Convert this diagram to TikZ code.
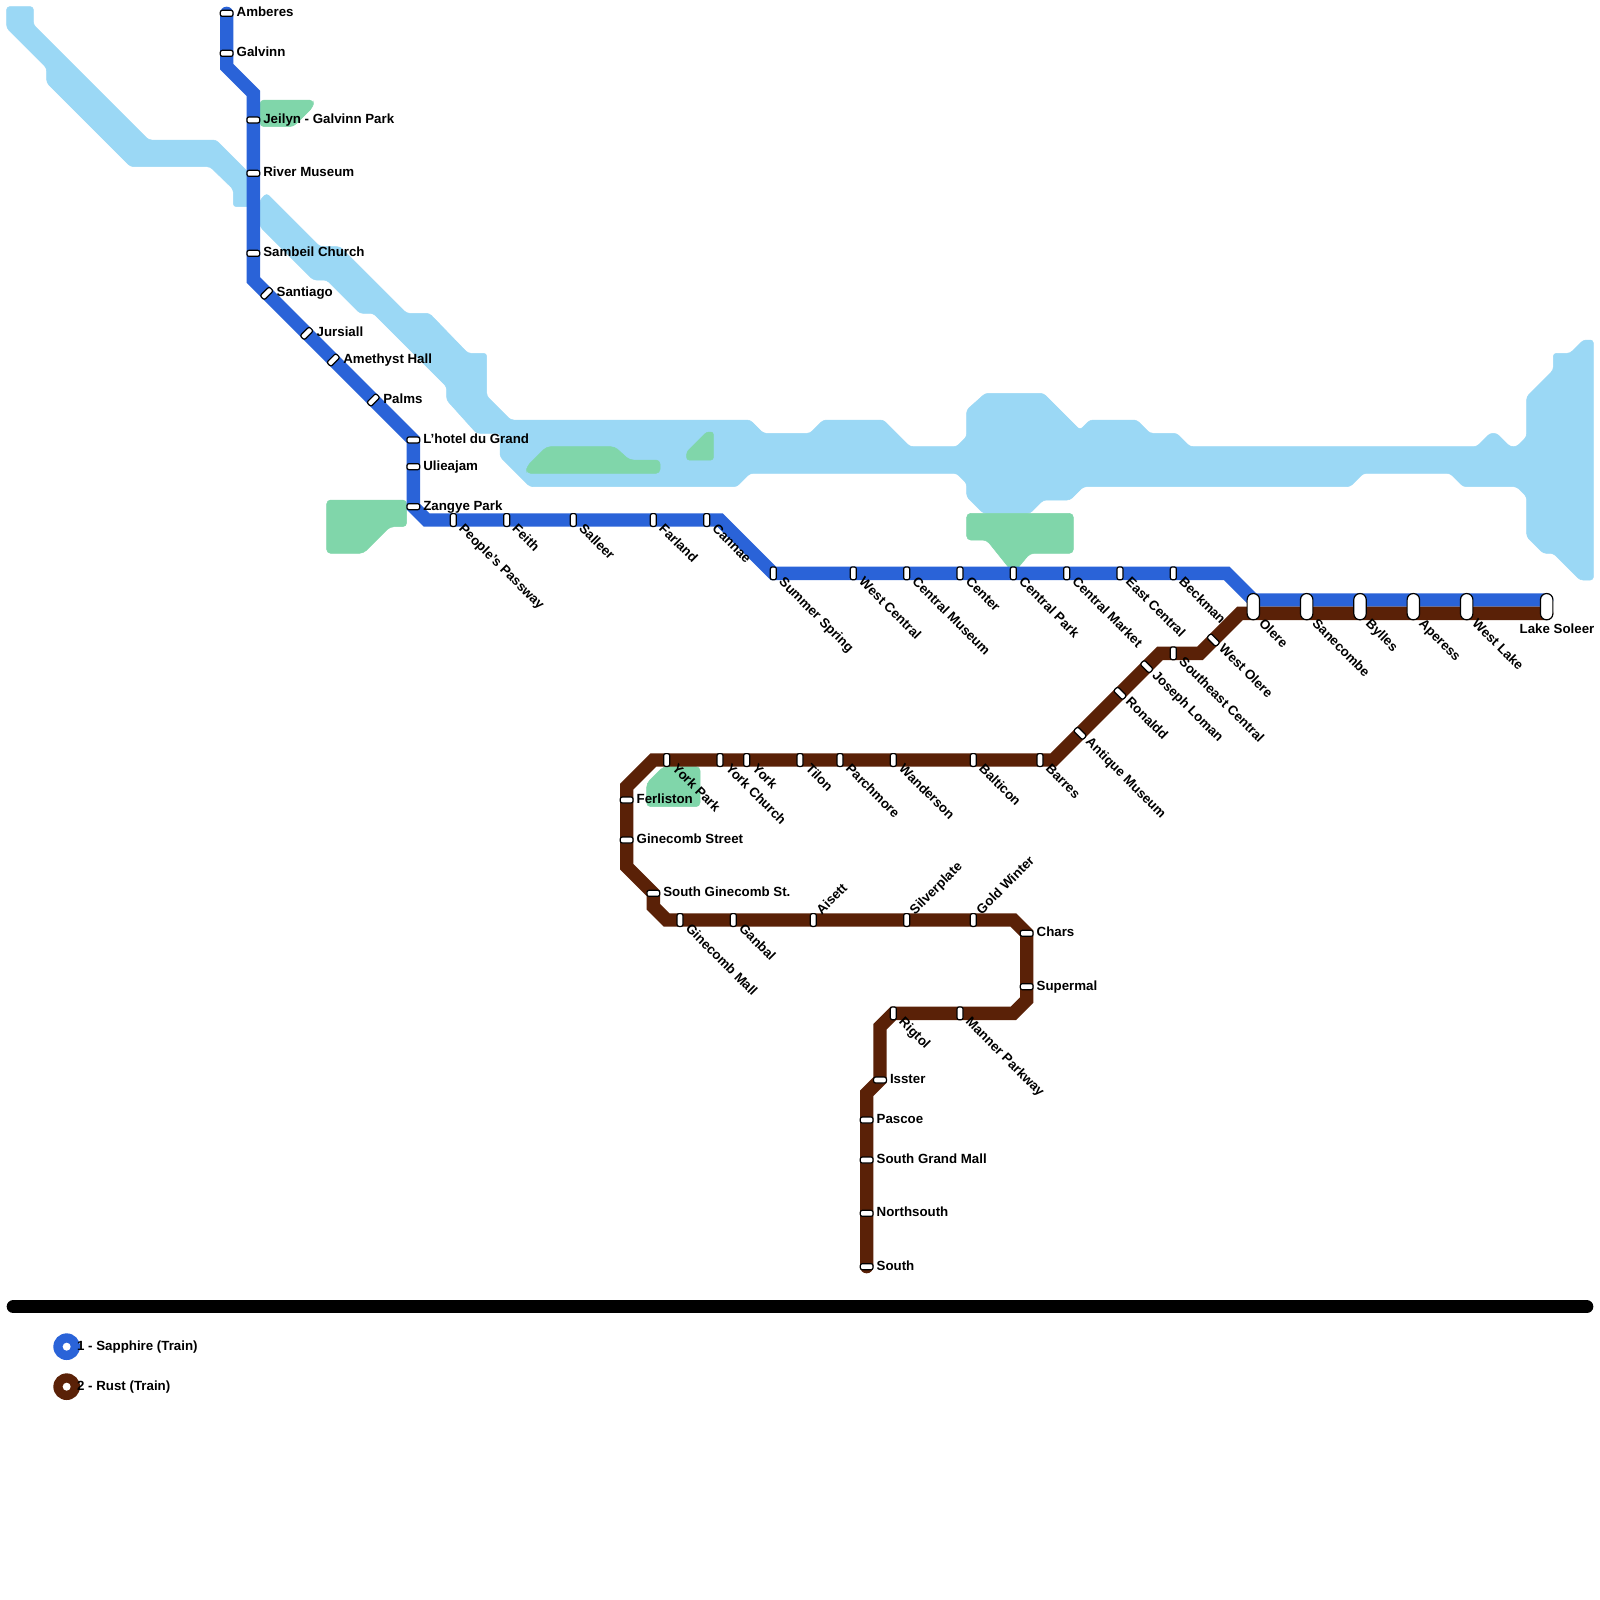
\documentclass[tikz,border=0pt]{standalone}
\usepackage{fontspec}
\setmainfont{Liberation Sans}
\pgfdeclarelayer{waterlayer}
\pgfdeclarelayer{linelayer}
\pgfsetlayers{waterlayer,linelayer,main}
\definecolor{waterc}{HTML}{9BD8F5}
\definecolor{parkc}{HTML}{80D6AA}
\definecolor{bluec}{HTML}{2A63D8}
\definecolor{rustc}{HTML}{5A2107}
\tikzset{
  water/.style={fill=waterc,draw=waterc,line width=0.5pt,rounded corners=3pt},
  park/.style={fill=parkc,draw=parkc,line width=0.5pt,rounded corners=4pt},
  metro/.style={line width=13.333pt,line join=miter,line cap=round},
  pill/.style={draw=black,fill=white,line width=1.2pt,rectangle,rounded corners=2pt,inner sep=0pt,outer sep=0pt},
  wide/.style={pill,minimum width=12.8pt,minimum height=6pt},
  tall/.style={pill,minimum width=6pt,minimum height=12.8pt},
  diagu/.style={wide,rotate=45},
  diagd/.style={wide,rotate=-45},
  big/.style={pill,minimum width=12.4pt,minimum height=26.2pt,rounded corners=6pt},
  lab/.style={font=\fontsize{13.3}{15}\selectfont\bfseries,text=black,inner sep=0pt,outer sep=0pt},
}
\newcommand{\lblR}[2]{\node[lab,anchor=base west] (#1-l) at ([shift={(10pt,-3.5pt)}]#1.center) {#2};}
\newcommand{\lblD}[2]{\node[lab,anchor=base west,rotate=-45] (#1-l) at ([shift={(5pt,-9.5pt)}]#1.center) {#2};}
\newcommand{\lblU}[2]{\node[lab,anchor=base west,rotate=45] (#1-l) at ([shift={(8.5pt,5pt)}]#1.center) {#2};}
\newcommand{\lblB}[2]{\node[lab,anchor=base west,rotate=-45] (#1-l) at ([shift={(5pt,-18pt)}]#1.center) {#2};}
\begin{document}
\begin{tikzpicture}[x=13.3333pt,y=-13.3333pt]
\useasboundingbox (0,0) rectangle (120,120);

% water
\begin{pgfonlayer}{waterlayer}
\fill[white] (0,0) rectangle (120,120);
\draw[water] (0.5,0.5) -- (2.5,0.5) -- (2.5,1.85) -- (11.15,10.5) -- (16.2,10.5) -- (19,13.3) -- (19,15.5) -- (17.5,15.5) -- (17.5,14.2) -- (15.75,12.5) -- (9.8,12.5) -- (3.5,6.2) -- (3.5,5.1) -- (0.5,2.1) -- cycle;
\draw[water] (19.5,15) -- (20,14.5) -- (20.5,15) -- (24,18.5) -- (25.5,18.5) -- (30.5,23.5) -- (32.2,23.5) -- (35.1,26.5) -- (36.5,26.5) -- (36.5,29.7) -- (38.3,31.5)
 -- (56.25,31.5) -- (57.25,32.5) -- (60.75,32.5) -- (61.75,31.5) -- (66.25,31.5) -- (68.25,33.5) -- (71.75,33.5) -- (72.5,32.75) -- (72.5,30.75) -- (73.9,29.5) -- (78.25,29.5) -- (81,32.25) -- (81.75,31.5) -- (85.25,31.5) -- (86.25,32.5) -- (88.25,32.5) -- (89.25,33.5)
 -- (110.75,33.5) -- (111.75,32.5) -- (112.25,32.5) -- (113.25,33.5) -- (113.75,33.5) -- (114.5,32.75) -- (114.5,29.75) -- (116.5,27.75) -- (116.5,26.5) -- (117.75,26.5) -- (118.75,25.5) -- (119.5,25.5)
 -- (119.5,43.5) -- (118.5,43.5) -- (116.5,41.5) -- (115.75,41.5) -- (114.5,40.25) -- (114.5,37.25) -- (113.75,36.5) -- (109.75,36.5) -- (108.75,35.5) -- (102.25,35.5) -- (101.25,36.5) -- (81.25,36.5) -- (80.25,37.5) -- (78.25,37.5) -- (77.25,38.5) -- (73.75,38.5) -- (72.5,37.25) -- (72.5,36.25) -- (71.75,35.5) -- (56.25,35.5) -- (55.25,36.5) -- (39.75,36.5) -- (37.5,34.25) -- (37.5,32.5) -- (35.75,32.5) -- (33.5,30) -- (33.5,29) -- (28,23.5) -- (27,23.5) -- (24.5,21) -- (23.5,21) -- (19.5,17) -- cycle;
% parks
\draw[park] (19.5,7.5) -- (23.5,7.5) -- (23.5,8) -- (22,9.5) -- (19.5,9.5) -- cycle;
\draw[park] (24.5,37.5) -- (30.5,37.5) -- (30.5,39.5) -- (29.25,39.5) -- (27.25,41.5) -- (24.5,41.5) -- cycle;
\draw[park] (39.5,35.5) -- (39.5,35) -- (41,33.5) -- (46.1,33.5) -- (47.2,34.5) -- (49.5,34.5) -- (49.5,35.5) -- cycle;
\draw[park,rounded corners=2.5pt] (51.5,34.5) -- (51.5,33.9) -- (53,32.4) -- (53.5,32.4) -- (53.5,34.5) -- cycle;
\draw[park] (72.5,38.5) -- (80.5,38.5) -- (80.5,41.5) -- (77.25,41.5) -- (76,43) -- (74,40.5) -- (72.5,40.5) -- cycle;
\draw[park] (48.5,60.5) -- (48.5,58.75) -- (49.75,57.5) -- (52.5,57.5) -- (52.5,60.5) -- cycle;
\end{pgfonlayer}

% blue stations
\node[wide] (amberes) at (17,1) {}; \lblR{amberes}{Amberes}
\node[wide] (galvinn) at (17,4) {}; \lblR{galvinn}{Galvinn}
\node[wide] (jeilyn) at (19,9) {}; \lblR{jeilyn}{Jeilyn - Galvinn Park}
\node[wide] (river) at (19,13) {}; \lblR{river}{River Museum}
\node[wide] (sambeil) at (19,19) {}; \lblR{sambeil}{Sambeil Church}
\node[diagu] (santiago) at (20,22) {}; \lblR{santiago}{Santiago}
\node[diagu] (jursiall) at (23,25) {}; \lblR{jursiall}{Jursiall}
\node[diagu] (amethyst) at (25,27) {}; \lblR{amethyst}{Amethyst Hall}
\node[diagu] (palms) at (28,30) {}; \lblR{palms}{Palms}
\node[wide] (hotel) at (31,33) {}; \lblR{hotel}{L'hotel du Grand}
\node[wide] (ulieajam) at (31,35) {}; \lblR{ulieajam}{Ulieajam}
\node[wide] (zangye) at (31,38) {}; \lblR{zangye}{Zangye Park}
\node[tall] (peoples) at (34,39) {}; \lblD{peoples}{People's Passway}
\node[tall] (feith) at (38,39) {}; \lblD{feith}{Feith}
\node[tall] (salleer) at (43,39) {}; \lblD{salleer}{Salleer}
\node[tall] (farland) at (49,39) {}; \lblD{farland}{Farland}
\node[tall] (cannae) at (53,39) {}; \lblD{cannae}{Cannae}
\node[tall] (summer) at (58,43) {}; \lblD{summer}{Summer Spring}
\node[tall] (westcentral) at (64,43) {}; \lblD{westcentral}{West Central}
\node[tall] (centralmuseum) at (68,43) {}; \lblD{centralmuseum}{Central Museum}
\node[tall] (center) at (72,43) {}; \lblD{center}{Center}
\node[tall] (centralpark) at (76,43) {}; \lblD{centralpark}{Central Park}
\node[tall] (centralmarket) at (80,43) {}; \lblD{centralmarket}{Central Market}
\node[tall] (eastcentral) at (84,43) {}; \lblD{eastcentral}{East Central}
\node[tall] (beckman) at (88,43) {}; \lblD{beckman}{Beckman}
% shared stations
\node[big] (olere) at (94,45.5) {}; \lblB{olere}{Olere}
\node[big] (sanecombe) at (98,45.5) {}; \lblB{sanecombe}{Sanecombe}
\node[big] (bylles) at (102,45.5) {}; \lblB{bylles}{Bylles}
\node[big] (aperess) at (106,45.5) {}; \lblB{aperess}{Aperess}
\node[big] (westlake) at (110,45.5) {}; \lblB{westlake}{West Lake}
\node[big] (lakesoleer) at (116,45.5) {};
\node[lab,anchor=base west] (lakesoleer-l) at ([shift={(-27pt,-27pt)}]lakesoleer.center) {Lake Soleer};
% rust stations
\node[diagd] (westolere) at (91,48) {}; \lblD{westolere}{West Olere}
\node[tall] (southeast) at (88,49) {}; \lblD{southeast}{Southeast Central}
\node[diagd] (joseph) at (86,50) {}; \lblD{joseph}{Joseph Loman}
\node[diagd] (ronaldd) at (84,52) {}; \lblD{ronaldd}{Ronaldd}
\node[diagd] (antique) at (81,55) {}; \lblD{antique}{Antique Museum}
\node[tall] (barres) at (78,57) {}; \lblD{barres}{Barres}
\node[tall] (balticon) at (73,57) {}; \lblD{balticon}{Balticon}
\node[tall] (wanderson) at (67,57) {}; \lblD{wanderson}{Wanderson}
\node[tall] (parchmore) at (63,57) {}; \lblD{parchmore}{Parchmore}
\node[tall] (tilon) at (60,57) {}; \lblD{tilon}{Tilon}
\node[tall] (york) at (56,57) {}; \lblD{york}{York}
\node[tall] (yorkchurch) at (54,57) {}; \lblD{yorkchurch}{York Church}
\node[tall] (yorkpark) at (50,57) {}; \lblD{yorkpark}{York Park}
\node[wide] (ferliston) at (47,60) {}; \lblR{ferliston}{Ferliston}
\node[wide] (ginecombst) at (47,63) {}; \lblR{ginecombst}{Ginecomb Street}
\node[wide] (southginecomb) at (49,67) {}; \lblR{southginecomb}{South Ginecomb St.}
\node[tall] (ginecombmall) at (51,69) {}; \lblD{ginecombmall}{Ginecomb Mall}
\node[tall] (ganbal) at (55,69) {}; \lblD{ganbal}{Ganbal}
\node[tall] (aisett) at (61,69) {}; \lblU{aisett}{Aisett}
\node[tall] (silverplate) at (68,69) {}; \lblU{silverplate}{Silverplate}
\node[tall] (goldwinter) at (73,69) {}; \lblU{goldwinter}{Gold Winter}
\node[wide] (chars) at (77,70) {}; \lblR{chars}{Chars}
\node[wide] (supermal) at (77,74) {}; \lblR{supermal}{Supermal}
\node[tall] (manner) at (72,76) {}; \lblD{manner}{Manner Parkway}
\node[tall] (rigtol) at (67,76) {}; \lblD{rigtol}{Rigtol}
\node[wide] (isster) at (66,81) {}; \lblR{isster}{Isster}
\node[wide] (pascoe) at (65,84) {}; \lblR{pascoe}{Pascoe}
\node[wide] (southgrand) at (65,87) {}; \lblR{southgrand}{South Grand Mall}
\node[wide] (northsouth) at (65,91) {}; \lblR{northsouth}{Northsouth}
\node[wide] (south) at (65,95) {}; \lblR{south}{South}

% lines
\begin{pgfonlayer}{linelayer}
\coordinate (b1) at (17,5); \coordinate (b2) at (19,7); \coordinate (b3) at (19,21);
\coordinate (b4) at (32,39); \coordinate (b5) at (54,39); \coordinate (b6) at (92,43);
\coordinate (bluehead) at (94,45); \coordinate (blueend) at (116,45);
\draw[metro,bluec] (amberes.center) -- (galvinn.center) -- (b1) -- (b2) -- (jeilyn.center) -- (river.center) -- (sambeil.center) -- (b3) -- (santiago.center) -- (jursiall.center) -- (amethyst.center) -- (palms.center) -- (hotel.center) -- (ulieajam.center) -- (zangye.center) -- (b4) -- (peoples.center) -- (feith.center) -- (salleer.center) -- (farland.center) -- (cannae.center) -- (b5) -- (summer.center) -- (westcentral.center) -- (centralmuseum.center) -- (center.center) -- (centralpark.center) -- (centralmarket.center) -- (eastcentral.center) -- (beckman.center) -- (b6) -- (bluehead) -- (blueend);
\coordinate (rustend) at (116,46); \coordinate (r1) at (93,46); \coordinate (r2) at (90,49); \coordinate (r3) at (87,49); \coordinate (r4) at (79,57); \coordinate (r5) at (49,57); \coordinate (r6) at (47,59); \coordinate (r7) at (47,65); \coordinate (r8) at (49,68); \coordinate (r9) at (50,69); \coordinate (r10) at (76,69); \coordinate (r11) at (77,75); \coordinate (r12) at (76,76); \coordinate (r13) at (66,77); \coordinate (r14) at (65,82);
\draw[metro,rustc] (rustend) -- (r1) -- (westolere.center) -- (r2) -- (southeast.center) -- (r3) -- (joseph.center) -- (ronaldd.center) -- (antique.center) -- (r4) -- (barres.center) -- (balticon.center) -- (wanderson.center) -- (parchmore.center) -- (tilon.center) -- (york.center) -- (yorkchurch.center) -- (yorkpark.center) -- (r5) -- (r6) -- (ferliston.center) -- (ginecombst.center) -- (r7) -- (southginecomb.center) -- (r8) -- (r9) -- (ginecombmall.center) -- (ganbal.center) -- (aisett.center) -- (silverplate.center) -- (goldwinter.center) -- (r10) -- (chars.center) -- (supermal.center) -- (r11) -- (r12) -- (manner.center) -- (rigtol.center) -- (r13) -- (isster.center) -- (r14) -- (pascoe.center) -- (southgrand.center) -- (northsouth.center) -- (south.center);
\coordinate (barl) at (1,98); \coordinate (barr) at (119,98);
\draw[metro,black] (barl) -- (barr);
\end{pgfonlayer}

% legend
\node[circle,fill=bluec,inner sep=0pt,minimum size=26.67pt] (leg1) at (5,101) {};
\node[circle,fill=white,inner sep=0pt,minimum size=8pt] (leg1h) at (leg1.center) {};
\node[circle,fill=rustc,inner sep=0pt,minimum size=26.67pt] (leg2) at (5,104) {};
\node[circle,fill=white,inner sep=0pt,minimum size=8pt] (leg2h) at (leg2.center) {};
\node[lab,anchor=base west] (leg1t) at ([shift={(10.5pt,-3.5pt)}]leg1.center) {1 - Sapphire (Train)};
\node[lab,anchor=base west] (leg2t) at ([shift={(10.5pt,-3.5pt)}]leg2.center) {2 - Rust (Train)};
\end{tikzpicture}
\end{document}
